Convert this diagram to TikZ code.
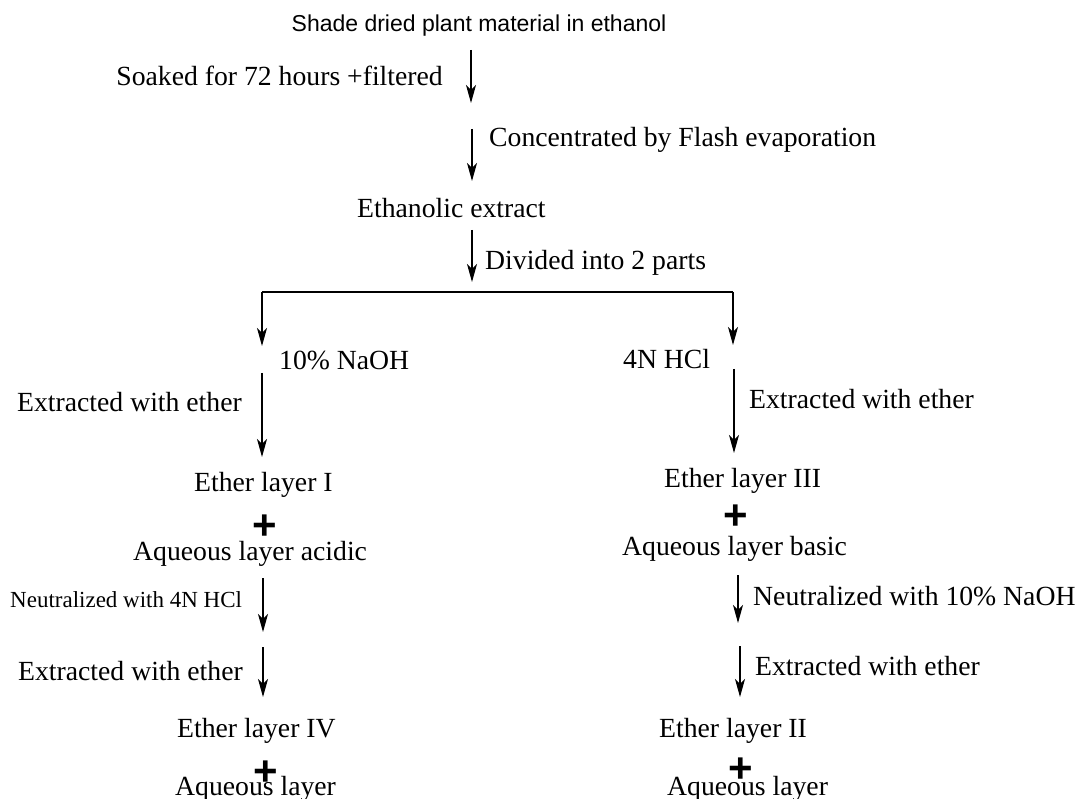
\documentclass[tikz,border=0pt]{standalone}
\usepackage{fontspec}
\setmainfont{Liberation Serif}
\newfontfamily\sansf{Liberation Sans}
\usetikzlibrary{arrows.meta}
\begin{document}
\begin{tikzpicture}[x=1pt,y=-1pt,
  lbl/.style={inner sep=0pt,anchor=base west,font=\fontsize{27.7}{30}\selectfont},
  smalllbl/.style={inner sep=0pt,anchor=base west,font=\fontsize{23}{26}\selectfont},
  titlelbl/.style={inner sep=0pt,anchor=base,font=\sansf\fontsize{23}{26}\selectfont},
  plusmark/.style={inner sep=0pt,anchor=center,font=\sansf\bfseries\fontsize{42}{44}\selectfont},
  arr/.style={line width=1.1pt,-{Stealth[length=18pt,width=10pt,inset=5pt]}},
  ln/.style={line width=1.1pt}]
\useasboundingbox (0,0) rectangle (1077,799);
% texts
\node[titlelbl] (title) at (479,32) {Shade dried plant material in ethanol};
\node[lbl,anchor=base east] (soak) at (443,86) {Soaked for 72 hours +filtered};
\node[lbl] (conc) at (489,147) {Concentrated by Flash evaporation};
\node[lbl] (etex) at (357,218) {Ethanolic extract};
\node[lbl] (divi) at (485,270) {Divided into 2 parts};
\node[lbl] (naoh) at (279,370) {10\% NaOH};
\node[lbl] (hcl) at (623,369) {4N HCl};
\node[lbl] (extL) at (17,412) {Extracted with ether};
\node[lbl] (extR) at (749,409) {Extracted with ether};
\node[lbl] (eth1) at (194,492) {Ether layer I};
\node[plusmark] (plusL1) at (265,527) {+};
\node[lbl] (aqac) at (133,560) {Aqueous layer acidic};
\node[lbl] (eth3) at (664,488) {Ether layer III};
\node[plusmark] (plusR1) at (736,517) {+};
\node[lbl] (aqba) at (622,555) {Aqueous layer basic};
\node[smalllbl] (neuL) at (10,607) {Neutralized with 4N HCl};
\node[lbl] (extL2) at (18,680) {Extracted with ether};
\node[lbl] (eth4) at (177,737) {Ether layer IV};
\node[lbl] (aqL) at (175,795) {Aqueous layer};
\node[plusmark] (plusL2) at (266,773) {+};
\node[lbl] (neuR) at (753,605) {Neutralized with 10\% NaOH};
\node[lbl] (extR2) at (755,675) {Extracted with ether};
\node[lbl] (eth2) at (659,737) {Ether layer II};
\node[lbl] (aqR) at (667,795) {Aqueous layer};
\node[plusmark] (plusR2) at (741,770) {+};
% arrow end points
\coordinate (a1s) at (471,50);  \coordinate (a1e) at (471,103);
\coordinate (a2s) at (472,129); \coordinate (a2e) at (472,181);
\coordinate (a3s) at (472,230); \coordinate (a3e) at (472,282);
\coordinate (brL) at (262,292); \coordinate (brR) at (733,292);
\coordinate (la1e) at (262,346); \coordinate (ra1e) at (733,345);
\coordinate (la2s) at (262,373); \coordinate (la2e) at (262,457);
\coordinate (ra2s) at (734,369); \coordinate (ra2e) at (734,453);
\coordinate (la3s) at (263,578); \coordinate (la3e) at (263,632);
\coordinate (la4s) at (263,647); \coordinate (la4e) at (263,697);
\coordinate (ra3s) at (738,575); \coordinate (ra3e) at (738,623);
\coordinate (ra4s) at (740,646); \coordinate (ra4e) at (740,697);
% connectors
\draw[arr] (a1s) -- (a1e);
\draw[arr] (a2s) -- (a2e);
\draw[arr] (a3s) -- (a3e);
\draw[ln] (brL) -- (brR);
\draw[arr] (brL) -- (la1e);
\draw[arr] (brR) -- (ra1e);
\draw[arr] (la2s) -- (la2e);
\draw[arr] (ra2s) -- (ra2e);
\draw[arr] (la3s) -- (la3e);
\draw[arr] (la4s) -- (la4e);
\draw[arr] (ra3s) -- (ra3e);
\draw[arr] (ra4s) -- (ra4e);
\end{tikzpicture}
\end{document}
